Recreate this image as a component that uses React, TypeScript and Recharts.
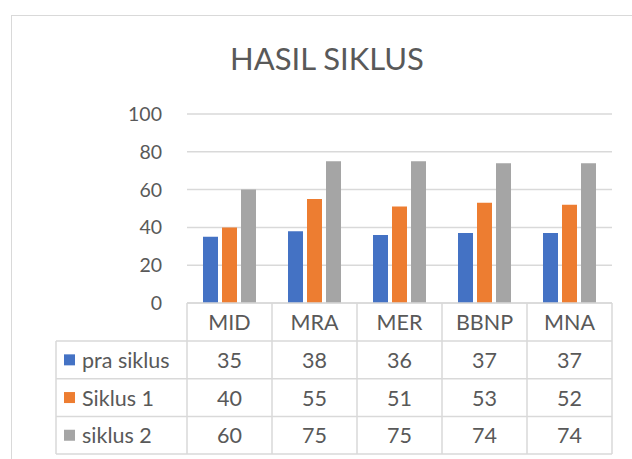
import React from "react";
import { BarChart, Bar, XAxis, YAxis, CartesianGrid } from "recharts";

// data
const categories = ["MID", "MRA", "MER", "BBNP", "MNA"];
const praSiklus = [35, 38, 36, 37, 37];
const siklus1 = [40, 55, 51, 53, 52];
const siklus2 = [60, 75, 75, 74, 74];
const seriesNames = ["pra siklus", "Siklus 1", "siklus 2"];
const seriesKeys = ["pra", "s1", "s2"];
const seriesColors = ["#4472C4", "#ED7D31", "#A5A5A5"];
const yTicks = [0, 20, 40, 60, 80, 100];

const seriesValues = [praSiklus, siklus1, siklus2];
const data = categories.map((name, i) => ({
  name,
  pra: praSiklus[i],
  s1: siklus1[i],
  s2: siklus2[i],
}));

const W = 632;
const H = 459;
const PLOT_LEFT = 187;
const PLOT_RIGHT = 612;
const PLOT_TOP = 114;
const PLOT_BOTTOM = 303;
const COL_W = (PLOT_RIGHT - PLOT_LEFT) / categories.length;
const LABEL_LEFT = 56;
const CAT_ROW_H = 38;
const ROW_H = 37.7;
const LINE = "#d9d9d9";
const TEXT = "#595959";
const FONT = "Lato, sans-serif";
const FS = 21.5;

// each x tick draws one column of the data table (and the legend column for the first)
const TableTick = (props: any) => {
  const { x, y, payload, index } = props;
  const left = x - COL_W / 2;
  const right = x + COL_W / 2;
  const rowY = (r: number) => y + CAT_ROW_H + ROW_H * r;
  const bottom = rowY(seriesValues.length);
  const ln = { stroke: LINE, strokeWidth: 1.5 };
  return (
    <g>
      <line x1={left} x2={right} y1={y} y2={y} {...ln} />
      <line x1={left} x2={left} y1={y} y2={bottom} {...ln} />
      {index === categories.length - 1 && (
        <line x1={right} x2={right} y1={y} y2={bottom} {...ln} />
      )}
      {seriesValues.map((_, r) => (
        <line key={r} x1={left} x2={right} y1={rowY(r)} y2={rowY(r)} {...ln} />
      ))}
      <line x1={left} x2={right} y1={bottom} y2={bottom} {...ln} />
      <text
        x={x}
        y={y + CAT_ROW_H / 2}
        textAnchor="middle"
        dominantBaseline="central"
        fill={TEXT}
        fontSize={FS}
        fontFamily={FONT}
      >
        {payload.value}
      </text>
      {seriesValues.map((vals, r) => (
        <text
          key={r}
          x={x}
          y={rowY(r) + ROW_H / 2}
          textAnchor="middle"
          dominantBaseline="central"
          fill={TEXT}
          fontSize={FS}
          fontFamily={FONT}
        >
          {vals[index]}
        </text>
      ))}
      {index === 0 && (
        <g>
          <line x1={LABEL_LEFT} x2={LABEL_LEFT} y1={rowY(0)} y2={bottom} {...ln} />
          {seriesNames.map((name, r) => (
            <g key={name}>
              <line x1={LABEL_LEFT} x2={left} y1={rowY(r)} y2={rowY(r)} {...ln} />
              <rect
                x={64}
                y={rowY(r) + ROW_H / 2 - 5.5}
                width={11}
                height={11}
                fill={seriesColors[r]}
              />
              <text
                x={82}
                y={rowY(r) + ROW_H / 2}
                dominantBaseline="central"
                fill={TEXT}
                fontSize={FS}
                fontFamily={FONT}
              >
                {name}
              </text>
            </g>
          ))}
          <line x1={LABEL_LEFT} x2={left} y1={bottom} y2={bottom} {...ln} />
        </g>
      )}
    </g>
  );
};

export default function App() {
  return (
    <div
      style={{
        position: "absolute",
        left: 0,
        top: 0,
        width: W,
        height: H,
        overflow: "hidden",
        background: "#fff",
      }}
    >
      <div
        style={{
          position: "absolute",
          left: 11,
          top: 15,
          width: W + 20,
          height: H + 20,
          border: `1px solid ${LINE}`,
        }}
      />
      <div
        style={{
          position: "absolute",
          left: 0,
          width: 654,
          top: 39,
          textAlign: "center",
          fontFamily: FONT,
          fontSize: 31,
          color: TEXT,
        }}
      >
        HASIL SIKLUS
      </div>
      <div style={{ position: "absolute", left: 0, top: 0 }}>
        <BarChart
          width={W}
          height={H}
          data={data}
          margin={{ top: PLOT_TOP, right: W - PLOT_RIGHT, bottom: 0, left: 0 }}
          barSize={15}
          barGap={4}
        >
          <CartesianGrid vertical={false} stroke={LINE} strokeWidth={1.5} />
          <XAxis
            dataKey="name"
            height={H - PLOT_BOTTOM}
            axisLine={false}
            tickLine={false}
            tickSize={0}
            tickMargin={0}
            interval={0}
            tick={<TableTick />}
          />
          <YAxis
            width={PLOT_LEFT}
            domain={[0, 100]}
            ticks={yTicks}
            axisLine={false}
            tickLine={false}
            tickSize={0}
            tickMargin={25}
            tick={{ fill: TEXT, fontSize: 19.5, fontFamily: FONT }}
          />
          {seriesKeys.map((k, i) => (
            <Bar
              key={k}
              dataKey={k}
              name={seriesNames[i]}
              fill={seriesColors[i]}
              isAnimationActive={false}
            />
          ))}
        </BarChart>
      </div>
    </div>
  );
}
